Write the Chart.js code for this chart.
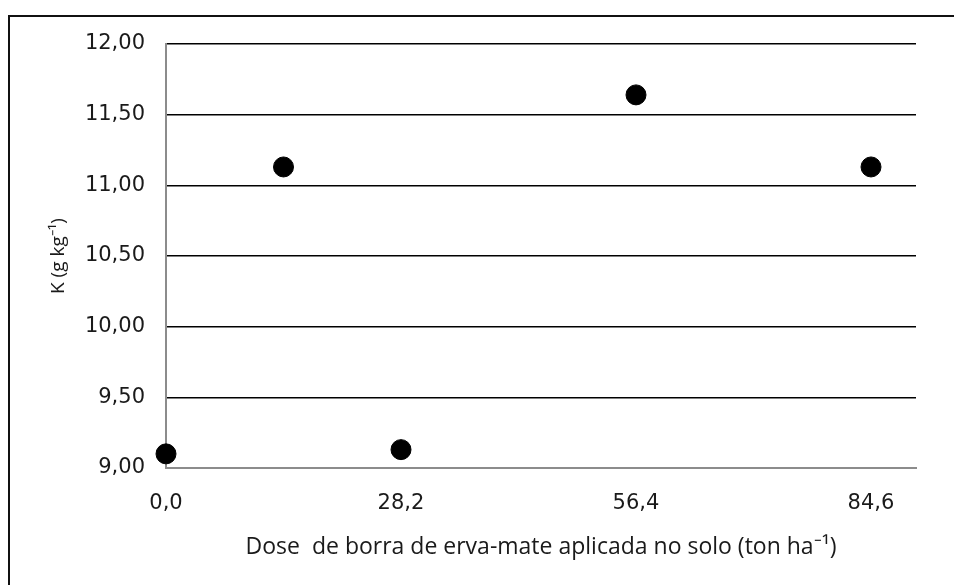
<!DOCTYPE html>
<html lang="pt">
<head>
  <meta charset="UTF-8" />
  <title>K no solo</title>
  <script src="https://cdn.jsdelivr.net/npm/chart.js"></script>
  <style>
    html, body {
      margin: 0;
      padding: 0;
      background: #fff;
    }
    .wrap {
      position: relative;
      width: 954px;
      height: 585px;
    }
    .frame {
      position: absolute;
      left: 8px;
      top: 15px;
      right: 0;
      bottom: 0;
      border-left: 2px solid #111;
      border-top: 2px solid #111;
      pointer-events: none;
    }
    canvas {
      position: absolute;
      left: 0;
      top: 0;
    }
  </style>
</head>
<body>
  <div class="wrap">
    <canvas id="kChart" width="954" height="585"></canvas>
    <div class="frame"></div>
  </div>

  <script>
    const doses = [0, 14.1, 28.2, 56.4, 84.6];
    const kValues = [9.10, 11.13, 9.13, 11.64, 11.13];
    const xTicks = [0, 28.2, 56.4, 84.6];
    const yTicks = [9, 9.5, 10, 10.5, 11, 11.5, 12];

    const comma = (v, d) => v.toFixed(d).replace('.', ',');

    new Chart(document.getElementById('kChart'), {
      type: 'scatter',
      data: {
        datasets: [{
          data: doses.map((d, i) => ({ x: d, y: kValues[i] })),
          backgroundColor: '#000',
          borderColor: '#000',
          pointRadius: 10,
          pointHoverRadius: 10,
          clip: false
        }]
      },
      options: {
        responsive: false,
        animation: false,
        events: [],
        layout: { padding: { top: 44, right: 38, left: 0, bottom: 0 } },
        plugins: {
          legend: { display: false },
          tooltip: { enabled: false }
        },
        scales: {
          x: {
            type: 'linear',
            min: 0,
            max: 90,
            afterBuildTicks: s => { s.ticks = xTicks.map(v => ({ value: v })); },
            afterFit: s => { s.height = 117; },
            grid: { display: false, drawTicks: false },
            border: { display: true, color: '#8c8c8c', width: 2 },
            ticks: {
              padding: 23,
              color: '#1a1a1a',
              font: { family: 'DejaVu Sans', size: 21 },
              callback: v => comma(v, 1)
            },
            title: {
              display: true,
              text: 'Dose  de borra de erva-mate aplicada no solo (ton ha⁻¹)',
              color: '#1a1a1a',
              font: { family: 'Open Sans', size: 23 },
              padding: { top: 0, bottom: 24 }
            }
          },
          y: {
            min: 9,
            max: 12,
            afterBuildTicks: s => { s.ticks = yTicks.map(v => ({ value: v })); },
            afterFit: s => { s.width = 166; },
            grid: {
              drawTicks: false,
              color: c => (c.tick && c.tick.value === 9) ? 'rgba(0,0,0,0)' : '#000',
              lineWidth: 1.5
            },
            border: { display: true, color: '#8c8c8c', width: 2 },
            ticks: {
              padding: 21,
              color: '#1a1a1a',
              font: { family: 'DejaVu Sans', size: 21 },
              callback: v => comma(v, 2)
            },
            title: {
              display: true,
              text: 'K (g kg⁻¹)',
              color: '#1a1a1a',
              font: { family: 'Open Sans', size: 19 },
              padding: { top: 47, bottom: 0 }
            }
          }
        }
      }
    });
  </script>
</body>
</html>
